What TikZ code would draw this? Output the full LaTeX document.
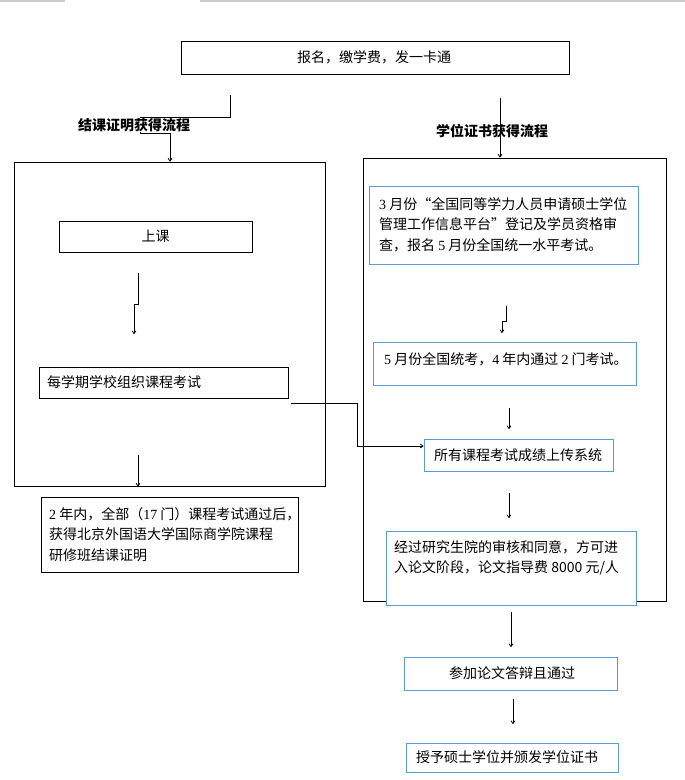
\documentclass[tikz,border=0pt]{standalone}
\usepackage{fontspec}
\setmainfont{Noto Sans CJK SC}
\newfontfamily\tm{Liberation Serif}
\usetikzlibrary{arrows.meta}
\definecolor{bluebox}{HTML}{5B9BD5}
\begin{document}
\begin{tikzpicture}[x=1pt,y=-1pt,
  font=\fontsize{14}{20.5}\selectfont,
  bbox/.style={draw=black,line width=1pt,fill=white,rectangle,inner sep=0pt},
  blbox/.style={draw=bluebox,line width=1pt,fill=white,rectangle,inner sep=0pt},
  outer/.style={draw=black,line width=1pt,rectangle,inner sep=0pt},
  txt/.style={inner sep=0pt,align=left},
  conn/.style={line width=0.8pt},
  arr/.style={line width=0.8pt,-{To[length=3.5pt,width=4.5pt]}}]
\useasboundingbox (0,0) rectangle (685,780);
\draw[gray!40,line width=1.5pt] (0,0.8) -- (65,0.8) (200,0.8) -- (685,0.8);

% outer frames
\node[outer,minimum width=311pt,minimum height=324pt] (lout) at (169.5,324) {};
\node[outer,minimum width=303pt,minimum height=443pt] (rout) at (514.5,379.5) {};

% top box
\node[bbox,minimum width=388pt,minimum height=33pt] (top) at (375,57.5) {};
\node[txt] (ttop) at (374,57) {报名，缴学费，发一卡通};

% left column
\node[bbox,minimum width=193pt,minimum height=31pt] (sk) at (155.5,236.5) {};
\node[txt] (tsk) at (155.5,236.5) {上课};
\node[bbox,minimum width=249pt,minimum height=31pt] (exam) at (163.5,382.5) {};
\node[txt,anchor=west] (texam) at (47,382) {每学期学校组织课程考试};
\node[bbox,minimum width=257pt,minimum height=75pt] (cert) at (169.5,534.5) {};
\node[txt,anchor=west] (tcert) at (49,534.5) {{\tm 2} 年内，全部（{\tm 17} 门）课程考试通过后，\\获得北京外国语大学国际商学院课程\\研修班结课证明};

% right column
\node[blbox,minimum width=269pt,minimum height=78pt] (b1) at (503.5,225) {};
\node[txt,anchor=west] (tb1) at (379,224.5) {{\tm 3} 月份“全国同等学力人员申请硕士学位\\管理工作信息平台”登记及学员资格审\\查，报名 {\tm 5} 月份全国统一水平考试。};
\node[blbox,minimum width=263pt,minimum height=43pt] (b2) at (504.5,363.5) {};
\node[txt,anchor=west] (tb2) at (384,359) {{\tm 5} 月份全国统考，{\tm 4} 年内通过 {\tm 2} 门考试。};
\node[blbox,minimum width=189pt,minimum height=32pt] (b3) at (518.5,455) {};
\node[txt] (tb3) at (518,455) {所有课程考试成绩上传系统};
\node[blbox,minimum width=250pt,minimum height=74pt] (b4) at (511,568) {};
\node[txt,anchor=west] (tb4) at (394,558) {经过研究生院的审核和同意，方可进\\入论文阶段，论文指导费 8000 元/人};
\node[blbox,minimum width=213pt,minimum height=33pt] (b5) at (510.5,673.5) {};
\node[txt] (tb5) at (512,673) {参加论文答辩且通过};
\node[blbox,minimum width=212pt,minimum height=29pt] (b6) at (512,757.5) {};
\node[txt] (tb6) at (507,757) {授予硕士学位并颁发学位证书};

% connectors
\coordinate (c1a) at (230,95);
\coordinate (c2a) at (500,98);
\draw[arr] (c1a) -- (230,117) -- (140,117) -- (140,133) -- (170,133) -- (170,133 |- lout.north);
\node[txt,fill=white,inner sep=0.5pt,font=\fontsize{14}{16}\selectfont\bfseries] (ltitle) at (134,125) {结课证明获得流程};
\node[txt,font=\fontsize{14}{16}\selectfont\bfseries] (rtitle) at (492,131) {学位证书获得流程};
\draw[arr] (c2a) -- (c2a |- rout.north);

\coordinate (c3a) at (138,273);
\coordinate (c3b) at (134,334);
\draw[arr] (c3a) -- (138,304) -- (134,304) -- (c3b);

\coordinate (c4a) at (291,403);
\coordinate (c4b) at (357,446);
\draw[arr] (c4a) -- (357,403) -- (c4b) -- (c4b -| b3.west);

\coordinate (c5a) at (138,455);
\draw[arr] (c5a) -- (c5a |- lout.south);

\coordinate (c6a) at (506,306);
\coordinate (c6b) at (502,333);
\draw[arr] (c6a) -- (506,321) -- (502,321) -- (c6b);

\coordinate (c7a) at (509,408);
\coordinate (c7b) at (509,429);
\draw[arr] (c7a) -- (c7b);
\coordinate (c8a) at (509,493);
\coordinate (c8b) at (509,518);
\draw[arr] (c8a) -- (c8b);
\coordinate (c9a) at (511,612);
\coordinate (c9b) at (511,647);
\draw[arr] (c9a) -- (c9b);
\coordinate (c10a) at (513,699);
\coordinate (c10b) at (513,724);
\draw[arr] (c10a) -- (c10b);
\end{tikzpicture}
\end{document}
